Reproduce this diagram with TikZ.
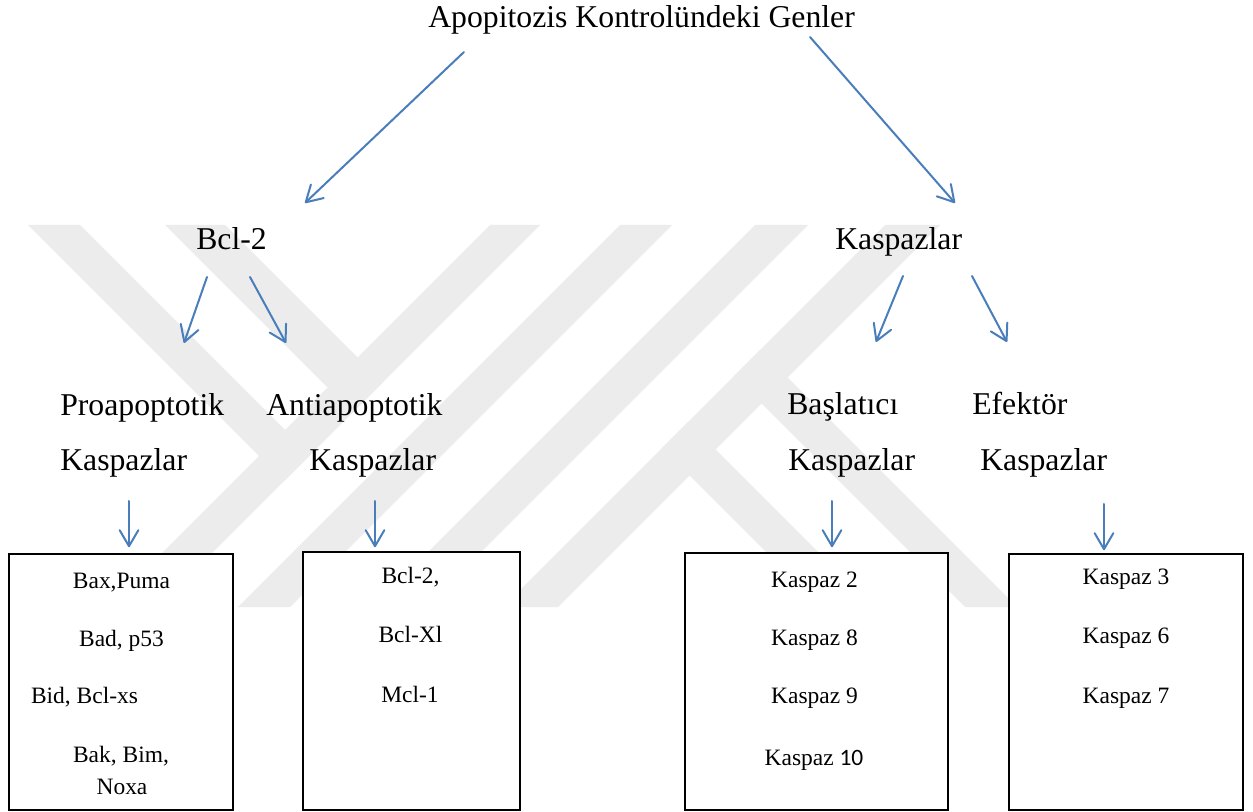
\documentclass[tikz,border=0pt]{standalone}
\usepackage{fontspec}
\setmainfont{Liberation Serif}
\newfontfamily\carlito{Carlito}
\usetikzlibrary{arrows.meta}
\definecolor{arrowblue}{RGB}{74,126,187}
\definecolor{wmgray}{RGB}{236,236,236}
\begin{document}
\begin{tikzpicture}[x=0.75pt,y=-0.75pt,
  big/.style={font=\fontsize{23.8}{28}\selectfont, inner sep=0pt, anchor=base west},
  small/.style={font=\fontsize{17.6}{21}\selectfont, inner sep=0pt, anchor=base},
  listbox/.style={draw=black, line width=1.2pt, fill=white, inner sep=0pt},
  arr/.style={draw=arrowblue, line width=1.5pt, line cap=round,
              -{Straight Barb[length=12pt,width=14pt,line cap=round,line join=round]}},
  wm/.style={fill=wmgray, draw=none}]
\useasboundingbox (0,0) rectangle (1253,812);
\fill[white] (0,0) rectangle (1253,812);

% watermark
\fill[wm] (490,225) -- (540,225) -- (158,607) -- (108,607) -- cycle;
\fill[wm] (620,225) -- (672,225) -- (290,607) -- (238,607) -- cycle;
\fill[wm] (755,225) -- (808,225) -- (426,607) -- (373,607) -- cycle;
\fill[wm] (885,225) -- (940,225) -- (558,607) -- (503,607) -- cycle;
\fill[wm] (28,225) -- (80,225) -- (310,455) -- (284,481) -- cycle;
\fill[wm] (165,225) -- (225,225) -- (382.5,382.5) -- (352.5,412.5) -- cycle;
\fill[wm] (662,448) -- (688,422) -- (873,607) -- (821,607) -- cycle;
\fill[wm] (734,376) -- (760,350) -- (1017,607) -- (965,607) -- cycle;

% text nodes
\node[big] (title) at (428,28) {Apopitozis Kontrolündeki Genler};
\node[big] (bcl) at (196,250) {Bcl-2};
\node[big] (kasp) at (835,250) {Kaspazlar};
\node[big] (pro1) at (60,416) {Proapoptotik};
\node[big] (pro2) at (60,471) {Kaspazlar};
\node[big] (anti1) at (266,416) {Antiapoptotik};
\node[big] (anti2) at (309,471) {Kaspazlar};
\node[big] (bas1) at (787,415) {Başlatıcı};
\node[big] (bas2) at (788,471) {Kaspazlar};
\node[big] (efe1) at (972,415) {Efektör};
\node[big] (efe2) at (980,471) {Kaspazlar};

% boxes
\node[listbox, minimum width=168pt, minimum height=192pt] (box1) at (121,682) {};
\node[listbox, minimum width=162.75pt, minimum height=193.5pt] (box2) at (411.5,681) {};
\node[listbox, minimum width=197.25pt, minimum height=192.75pt] (box3) at (816.5,681.5) {};
\node[listbox, minimum width=175.5pt, minimum height=192pt] (box4) at (1126,682) {};

\node[small] (b1a) at (121.5,588) {Bax,Puma};
\node[small] (b1b) at (121.5,646) {Bad, p53};
\node[small] (b1c) at (84.5,703) {Bid, Bcl-xs};
\node[small] (b1d) at (121,762) {Bak, Bim,};
\node[small] (b1e) at (122,794) {Noxa};

\node[small] (b2a) at (410.5,583) {Bcl-2,};
\node[small] (b2b) at (410.5,642) {Bcl-Xl};
\node[small] (b2c) at (410,702) {Mcl-1};

\node[small] (b3a) at (814.5,587) {Kaspaz 2};
\node[small] (b3b) at (814.5,645) {Kaspaz 8};
\node[small] (b3c) at (814.5,703) {Kaspaz 9};
\node[small] (b3d) at (814,765) {Kaspaz {\carlito 10}};

\node[small] (b4a) at (1126,585) {Kaspaz 3};
\node[small] (b4b) at (1126,643) {Kaspaz 6};
\node[small] (b4c) at (1126,703) {Kaspaz 7};

% connector end points
\coordinate (t-l) at (464,52);   \coordinate (bcl-in) at (305,203);
\coordinate (t-r) at (810,37);   \coordinate (kasp-in) at (955,203);
\coordinate (bcl-l) at (207,277); \coordinate (pro-in) at (184,343);
\coordinate (bcl-r) at (250,277); \coordinate (anti-in) at (286,343);
\coordinate (kasp-l) at (903,276); \coordinate (bas-in) at (876,342);
\coordinate (kasp-r) at (972,276); \coordinate (efe-in) at (1007,342);
\coordinate (pro-out) at (129,501);
\coordinate (anti-out) at (375,501);
\coordinate (bas-out) at (832,501);
\coordinate (efe-out) at (1104,504);

\draw[arr] (t-l) -- (bcl-in);
\draw[arr] (t-r) -- (kasp-in);
\draw[arr] (bcl-l) -- (pro-in);
\draw[arr] (bcl-r) -- (anti-in);
\draw[arr] (kasp-l) -- (bas-in);
\draw[arr] (kasp-r) -- (efe-in);
\draw[arr, shorten >=4.5pt] (pro-out) -- (pro-out |- box1.north);
\draw[arr, shorten >=3pt] (anti-out) -- (anti-out |- box2.north);
\draw[arr, shorten >=3.75pt] (bas-out) -- (bas-out |- box3.north);
\draw[arr, shorten >=2.25pt] (efe-out) -- (efe-out |- box4.north);
\end{tikzpicture}
\end{document}
